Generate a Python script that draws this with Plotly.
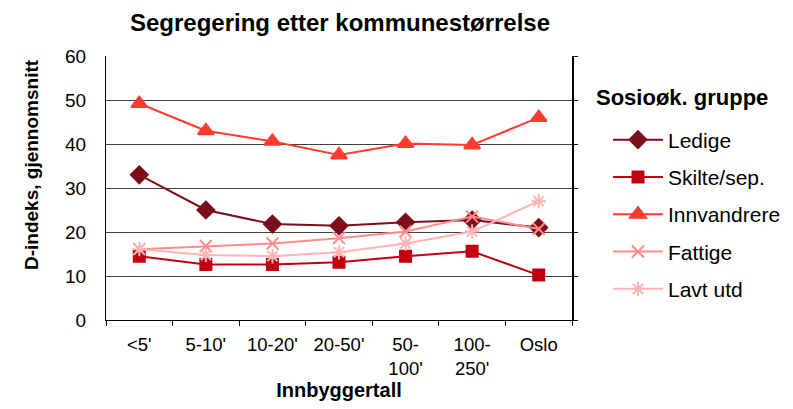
import plotly.graph_objects as go

categories = ["<5'", "5-10'", "10-20'", "20-50'", "50-<br>100'", "100-<br>250'", "Oslo"]
ledige = [33.0, 25.0, 21.8, 21.4, 22.2, 22.7, 21.0]
skilte = [14.5, 12.6, 12.6, 13.1, 14.5, 15.6, 10.2]
innvandrere = [49.2, 43.0, 40.6, 37.5, 40.1, 39.8, 46.0]
fattige = [16.1, 16.8, 17.4, 18.6, 20.1, 23.5, 20.7]
lavt_utd = [16.1, 14.8, 14.5, 15.4, 17.4, 20.1, 27.0]

series = [
    ("Ledige", ledige, "#7B0F1A", "diamond", 13),
    ("Skilte/sep.", skilte, "#C00010", "square", 11),
    ("Innvandrere", innvandrere, "#FF3B30", "triangle-up", 14),
    ("Fattige", fattige, "#FF8C8C", "x-thin", 12),
    ("Lavt utd", lavt_utd, "#FFB4B4", "asterisk", 12),
]

fig = go.Figure()
for i, (name, vals, color, sym, size) in enumerate(series):
    fig.add_trace(go.Scatter(
        x=categories, y=vals, name=name, mode="lines+markers",
        legendgroup=str(i),
        line=dict(color=color, width=2),
        marker=dict(symbol=sym, size=size, color=color,
                    line=dict(color=color, width=2)),
    ))

W, H = 785, 401
L, T = 98, 48
PW, PH = 466, 264
font_family = "Liberation Sans, Arial, sans-serif"


def px_x(x):
    return (x - 8 - L) / PW


def px_y(y):
    return 1 - (y - 8 - T) / PH


fig.update_layout(
    width=W, height=H,
    margin=dict(l=L, r=W - L - PW, t=T, b=H - T - PH, autoexpand=False),
    paper_bgcolor="white", plot_bgcolor="white",
    font=dict(family=font_family, color="black", size=18),
    title=dict(text="<b>Segregering etter kommunestørrelse</b>",
               x=332/W, xanchor="center", y=1 - 15/H, yanchor="middle",
               font=dict(size=24)),
    showlegend=True,
    legend=dict(
        x=px_x(608), xanchor="left", y=px_y(119.5), yanchor="top",
        font=dict(size=21), tracegroupgap=7,
        traceorder="grouped", itemwidth=50,
        bgcolor="rgba(0,0,0,0)",
    ),
    xaxis=dict(
        type="category", tickson="boundaries",
        ticks="outside", ticklen=5, tickcolor="black",
        ticklabelstandoff=8,
        showline=True, linecolor="black", linewidth=1,
        showgrid=False, range=[-0.5, 6.5],
        title=dict(text="<b>Innbyggertall</b>", font=dict(size=20), standoff=3),
        tickfont=dict(size=18.5),
    ),
    yaxis=dict(
        range=[0, 60], dtick=10, tick0=0,
        ticks="", ticklabelstandoff=15,
        showline=True, linecolor="black", linewidth=1, mirror=False,
        showgrid=True, gridcolor="#404040", gridwidth=1,
        zeroline=False,
        tickfont=dict(size=19),
    ),
    yaxis2=dict(
        overlaying="y", side="right", range=[0, 60], dtick=10,
        ticks="outside", ticklen=4, tickcolor="black",
        showticklabels=False, showgrid=False, zeroline=False,
        showline=True, linecolor="black", linewidth=2,
    ),
    annotations=[
        dict(text="<b>D-indeks, gjennomsnitt</b>", xref="paper", yref="paper",
             x=px_x(31), y=px_y(165), xanchor="center", yanchor="middle",
             textangle=-90, showarrow=False, font=dict(size=19)),
        dict(text="<b>Sosioøk. gruppe</b>", xref="paper", yref="paper",
             x=px_x(594), y=px_y(97), xanchor="left", yanchor="middle",
             showarrow=False, font=dict(size=22)),
    ],
)
fig.add_trace(go.Scatter(x=[categories[0]], y=[None], yaxis="y2",
                         showlegend=False, hoverinfo="skip"))

fig.write_html("out.html")
